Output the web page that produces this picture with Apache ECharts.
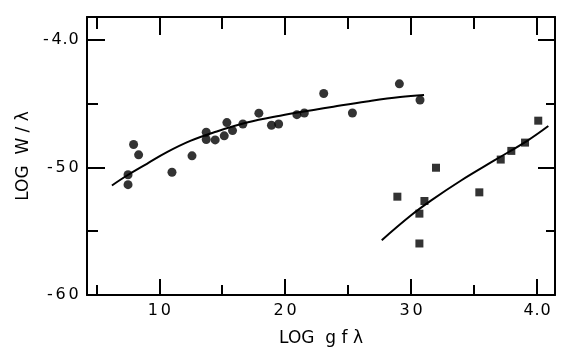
<!DOCTYPE html>
<html>
<head>
<meta charset="utf-8">
<script src="https://cdn.jsdelivr.net/npm/echarts@6/dist/echarts.min.js"></script>
<style>html,body{margin:0;padding:0;background:#fff;}#c{width:570px;height:360px;}</style>
</head>
<body>
<div id="c"></div>
<script>
// Circles (first group)
var circleX = [0.752, 0.752, 0.796, 0.836, 1.101, 1.260, 1.373, 1.373, 1.444, 1.516, 1.537, 1.582, 1.664, 1.791, 1.891, 1.948, 2.093, 2.152, 2.306, 2.534, 2.907, 3.071];
var circleY = [-5.057, -5.135, -4.820, -4.901, -5.037, -4.909, -4.724, -4.781, -4.784, -4.752, -4.648, -4.711, -4.659, -4.574, -4.669, -4.659, -4.586, -4.573, -4.420, -4.573, -4.344, -4.471];
// Squares (second group)
var squareX = [2.891, 3.066, 3.066, 3.106, 3.198, 3.542, 3.712, 3.796, 3.905, 4.010];
var squareY = [-5.229, -5.362, -5.596, -5.263, -5.002, -5.195, -4.938, -4.870, -4.805, -4.633];
// Fitted curves
var fit1X = [0.624, 0.744, 0.902, 1.061, 1.246, 1.431, 1.696, 1.960, 2.225, 2.383, 2.648, 2.913, 3.103];
var fit1Y = [-5.141, -5.063, -4.971, -4.880, -4.792, -4.726, -4.648, -4.594, -4.549, -4.523, -4.482, -4.447, -4.432];
var fit2X = [2.767, 3.000, 3.160, 3.397, 3.661, 3.925, 4.090];
var fit2Y = [-5.570, -5.375, -5.258, -5.102, -4.945, -4.789, -4.675];
// Ticks
var xMajor = [1, 2, 3, 4];
var xMajorLabels = ["10", "20", "30", "4.0"];
var xMinor = [0.5, 1.5, 2.5, 3.5];
var yMajor = [-6, -5, -4];
var yMajorLabels = ["-60", "-50", "-4.0"];
var yMinor = [-5.5, -4.5];

function zip(a, b) { return a.map(function (v, i) { return [v, b[i]]; }); }
function spaced(s) {
  var out = '';
  for (var i = 0; i < s.length; i++) {
    var ch = s[i];
    var k = ch === '-' ? 'm' : (ch === '.' ? 'p' : 'd');
    out += '{' + k + '|' + ch + '}';
  }
  return out;
}
function lab(values, labels) {
  return function (v) {
    for (var i = 0; i < values.length; i++) if (Math.abs(values[i] - v) < 1e-6) return spaced(labels[i]);
    return '';
  };
}

var XMIN = 0.426, XMAX = 4.143, YMIN = -6.0, YMAX = -3.82;
var lineStyle = { color: '#000', width: 2 };
var font = 'DejaVu Sans';
var rich = {
  d: { width: 13, align: 'center', fontSize: 16, fontFamily: font, color: '#000' },
  m: { width: 8, align: 'center', fontSize: 16, fontFamily: font, color: '#000' },
  p: { width: 4, align: 'center', fontSize: 16, fontFamily: font, color: '#000' }
};

function xAx(pos, values, len, showLabel, showLine) {
  return {
    type: 'value', position: pos, min: XMIN, max: XMAX,
    axisLine: { show: showLine, onZero: false, lineStyle: lineStyle },
    axisTick: { show: true, inside: true, length: len, customValues: values, lineStyle: { color: '#000', width: 2 } },
    axisLabel: { show: showLabel, customValues: values, formatter: lab(xMajor, xMajorLabels), color: '#000', fontSize: 16, fontFamily: font, margin: 8, rich: rich },
    splitLine: { show: false }
  };
}
function yAx(pos, values, len, showLabel, showLine) {
  return {
    type: 'value', position: pos, min: YMIN, max: YMAX,
    axisLine: { show: showLine, onZero: false, lineStyle: lineStyle },
    axisTick: { show: true, inside: true, length: len, customValues: values, lineStyle: { color: '#000', width: 2 } },
    axisLabel: { show: showLabel, customValues: values, formatter: lab(yMajor, yMajorLabels), color: '#000', fontSize: 16, fontFamily: font, margin: 7, rich: rich },
    splitLine: { show: false }
  };
}

var xa0 = xAx('bottom', xMajor, 16, true, true);
xa0.name = 'LOG  g f λ';
xa0.nameLocation = 'middle';
xa0.nameGap = 35;
xa0.nameTextStyle = { color: '#000', fontSize: 17, fontFamily: font };
var ya0 = yAx('left', yMajor, 18, true, true);
ya0.name = 'LOG  W / λ';
ya0.nameLocation = 'middle';
ya0.nameGap = 52;
ya0.nameTextStyle = { color: '#000', fontSize: 17, fontFamily: font };

var chart = echarts.init(document.getElementById('c'), null, { renderer: 'canvas' });
chart.setOption({
  animation: false,
  backgroundColor: '#fff',
  grid: { left: 87, right: 15, top: 17, bottom: 65 },
  xAxis: [
    xa0,
    xAx('bottom', xMinor, 10, false, false),
    xAx('top', xMajor, 18, false, true),
    xAx('top', xMinor, 12, false, false)
  ],
  yAxis: [
    ya0,
    yAx('left', yMinor, 11, false, false),
    yAx('right', yMajor, 17, false, true),
    yAx('right', yMinor, 9, false, false)
  ],
  series: [
    { type: 'line', data: zip(fit1X, fit1Y), smooth: 0.4, showSymbol: false, symbol: 'none', lineStyle: { color: '#000', width: 2 } },
    { type: 'line', data: zip(fit2X, fit2Y), smooth: 0.4, showSymbol: false, symbol: 'none', lineStyle: { color: '#000', width: 2 } },
    { type: 'scatter', data: zip(circleX, circleY), symbol: 'circle', symbolSize: 9, itemStyle: { color: '#000' } },
    { type: 'scatter', data: zip(squareX, squareY), symbol: 'rect', symbolSize: 8, itemStyle: { color: '#000' } }
  ]
});
</script>
</body>
</html>
